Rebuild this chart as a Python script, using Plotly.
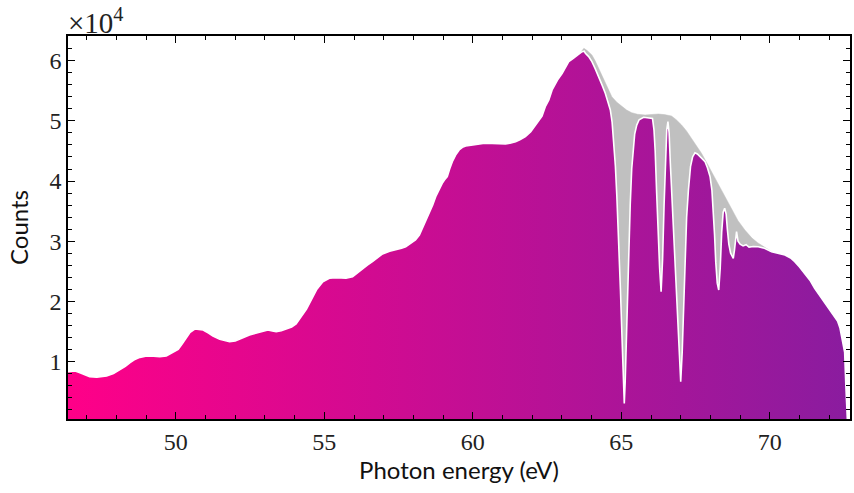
import plotly.graph_objects as go

# Measured photon spectrum (energy in eV, counts)
energy = [
    46.37, 46.5, 46.61, 46.75, 46.94, 47.1, 47.34, 47.5, 47.67, 47.9,
    48.12, 48.3, 48.46, 48.6, 48.79, 49.02, 49.25, 49.46, 49.68, 49.86,
    50.08, 50.2, 50.30, 50.47, 50.64, 50.78, 50.92, 51.1, 51.25, 51.48,
    51.65, 51.81, 52.0, 52.15, 52.3, 52.48, 52.65, 52.82, 53.0, 53.10,
    53.25, 53.38, 53.55, 53.71, 53.9, 54.05, 54.15, 54.27, 54.40, 54.50,
    54.60, 54.75, 54.95, 55.17, 55.4, 55.6, 55.73, 55.95, 56.1, 56.29,
    56.45, 56.62, 56.8, 56.96, 57.2, 57.40, 57.6, 57.74, 57.9, 58.07,
    58.2, 58.30, 58.4, 58.52, 58.65, 58.75, 58.85, 58.97, 59.05, 59.14,
    59.22, 59.31, 59.42, 59.54, 59.65, 59.76, 60.0, 60.21, 60.4, 60.65,
    60.9, 61.10, 61.25, 61.44, 61.6, 61.77, 61.95, 62.11, 62.25, 62.33,
    62.44, 62.56, 62.67, 62.85, 63.01, 63.12, 63.23, 63.35, 63.46, 63.57,
    63.68, 63.75, 63.79, 63.9, 64.01, 64.12, 64.24, 64.35, 64.46, 64.55,
    64.63, 64.69, 64.74, 64.80, 64.85, 64.91, 64.97, 65.03, 65.07, 65.10,
    65.13, 65.17, 65.21, 65.25, 65.30, 65.35, 65.40, 65.45, 65.52, 65.60,
    65.75, 65.90, 66.05, 66.10, 66.14, 66.19, 66.24, 66.29, 66.34, 66.39,
    66.44, 66.49, 66.53, 66.57, 66.61, 66.65, 66.70, 66.75, 66.80, 66.86,
    66.93, 67.00, 67.05, 67.10, 67.15, 67.20, 67.26, 67.33, 67.40, 67.48,
    67.56, 67.65, 67.74, 67.82, 67.90, 67.99, 68.05, 68.10, 68.14, 68.18,
    68.23, 68.28, 68.33, 68.38, 68.43, 68.48, 68.53, 68.57, 68.62, 68.68,
    68.74, 68.77, 68.81, 68.85, 68.88, 68.93, 69.00, 69.1, 69.2, 69.3,
    69.45, 69.61, 69.82, 70.06, 70.3, 70.51, 70.7, 70.84, 71.0, 71.18,
    71.35, 71.51, 71.7, 71.85, 72.0, 72.18, 72.28, 72.36, 72.45, 72.52,
    72.56, 72.58, 72.61,
]
counts = [
    8270, 8350, 8390, 8150, 7720, 7450, 7340, 7400, 7550, 7950,
    8550, 9150, 9770, 10250, 10660, 10880, 10850, 10770, 10880, 11330,
    12000, 12800, 13540, 14760, 15370, 15350, 15210, 14700, 14210, 13660,
    13400, 13260, 13400, 13660, 14000, 14380, 14600, 14760, 15000, 15210,
    15050, 14930, 15100, 15330, 15700, 16210, 16900, 17710, 18700, 19650,
    20500, 22000, 23250, 23810, 23900, 23800, 23810, 24080, 24700, 25480,
    26000, 26580, 27200, 27860, 28300, 28520, 28800, 29070, 29600, 30190,
    31000, 32130, 33200, 34350, 36000, 37390, 38500, 39620, 40200, 40720,
    42000, 43220, 44300, 45160, 45600, 45830, 46000, 46160, 46300, 46270,
    46200, 46160, 46300, 46540, 46900, 47370, 48200, 49320, 50300, 50800,
    52370, 53480, 55150, 56800, 57920, 59000, 59860, 60300, 60690, 61100,
    61520, 61600, 61250, 60700, 59860, 58700, 57360, 56000, 54590, 53300,
    51820, 49800, 46830, 42500, 37390, 30500, 22000, 13000, 7000, 3000,
    6500, 14000, 22000, 28500, 36000, 42000, 45500, 47800, 49300, 50200,
    50600, 50500, 50400, 48500, 45000, 38000, 31000, 25500, 21600, 27000,
    36000, 44000, 48500, 49900, 48000, 43000, 38000, 33500, 28000, 21000,
    13000, 6600, 11500, 20000, 28000, 34000, 38500, 42400, 44000, 44700,
    44500, 44000, 43600, 43200, 42200, 40700, 38500, 35200, 31000, 26500,
    23000, 21870, 25500, 31500, 34800, 35460, 34500, 32000, 29500, 28000,
    27300, 27140, 28500, 30800, 31570, 30000, 29500, 29200, 29400, 29000,
    29100, 29070, 28800, 28240, 28000, 27690, 27200, 26580, 25700, 24650,
    23500, 22150, 20800, 19650, 18600, 17420, 16700, 15600, 13600, 11500,
    6000, 2000, 400,
]

# Unabsorbed reference envelope across the absorption lines
ref_energy = [
    63.55, 63.65, 63.74, 63.85, 64.01, 64.12, 64.24, 64.35, 64.46, 64.57,
    64.68, 64.85, 65.02, 65.18, 65.35, 65.55, 65.80, 66.0, 66.25, 66.45,
    66.69, 66.85, 67.03, 67.20, 67.37, 67.53, 67.70, 67.87, 68.04, 68.21,
    68.38, 68.55, 68.71, 68.93, 69.16, 69.40, 69.60, 69.82, 69.95, 70.06,
]
ref_counts = [
    60900, 61500, 62080, 61700, 60970, 60000, 58760, 57500, 56260, 55100,
    54030, 53100, 52370, 51800, 51370, 51100, 50990, 51050, 51150, 51050,
    50820, 50200, 49320, 48300, 47110, 45900, 44610, 43100, 41550, 39900,
    38220, 36700, 35180, 33400, 31850, 30500, 29700, 29000, 28700, 28240,
]

y_ticks = [10000, 20000, 30000, 40000, 50000, 60000]
y_tick_text = ["1", "2", "3", "4", "5", "6"]
x_ticks = [50, 55, 60, 65, 70]

fig = go.Figure()

fig.add_trace(go.Scatter(
    x=ref_energy, y=ref_counts, mode="lines",
    line=dict(color="#c0c0c0", width=0.5),
    fill="tozeroy", fillcolor="#c0c0c0",
    hoverinfo="skip", showlegend=False,
))

fig.add_trace(go.Scatter(
    x=energy, y=counts, mode="lines",
    line=dict(color="white", width=1.6),
    fill="tozeroy",
    fillgradient=dict(
        type="horizontal",
        colorscale=[[0, "#ff0088"], [1, "#8a1c9f"]],
        start=46.37, stop=72.6,
    ),
    showlegend=False,
))

axis_common = dict(
    showline=True, linecolor="black", linewidth=1.5, mirror="ticks",
    ticks="inside", ticklen=7, tickwidth=1, tickcolor="black",
    showgrid=False, zeroline=False,
    tickfont=dict(family="Liberation Serif", size=24, color="#222"),
    title_font=dict(family="Lato", size=24, color="#111"),
)

fig.update_xaxes(
    range=[46.37, 72.70], tickvals=x_ticks,
    minor=dict(ticks="inside", ticklen=4, tickwidth=1, dtick=1, tick0=0, tickcolor="black"),
    title_text="Photon energy (eV)", title_standoff=6,
    **axis_common,
)
fig.update_yaxes(
    range=[400, 64130], tickvals=y_ticks, ticktext=y_tick_text,
    minor=dict(ticks="inside", ticklen=4, tickwidth=1, dtick=2000, tick0=0, tickcolor="black"),
    title_text="Counts", title_standoff=14,
    **axis_common,
)

fig.add_annotation(
    text="×10<sup>4</sup>", xref="paper", yref="paper", x=0, y=1,
    xanchor="left", yanchor="bottom", showarrow=False, xshift=-2, yshift=-5,
    font=dict(family="Liberation Serif", size=29, color="#222"),
)

fig.update_layout(
    width=854, height=493,
    margin=dict(l=68, r=2, t=36, b=74),
    plot_bgcolor="white", paper_bgcolor="white",
)

fig.write_html("out.html")
